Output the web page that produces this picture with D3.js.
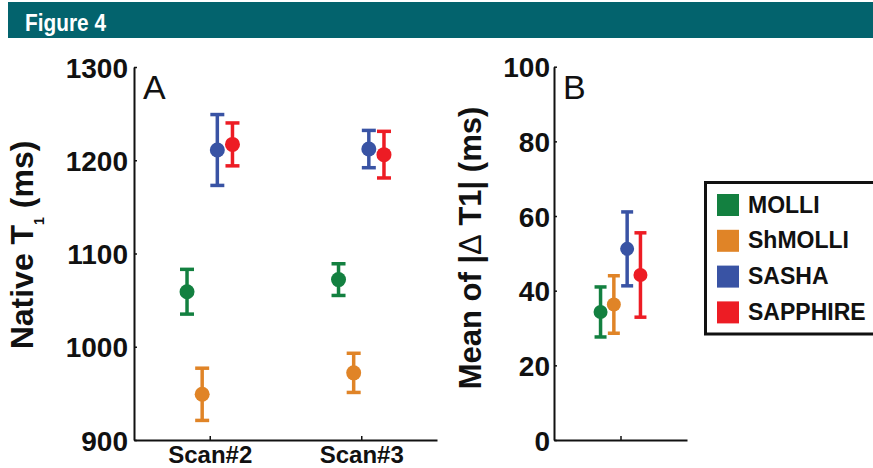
<!DOCTYPE html>
<html><head><meta charset="utf-8">
<script src="https://cdn.jsdelivr.net/npm/d3@7"></script>
<style>
body{margin:0;background:#fff;}
svg{display:block;font-family:"Liberation Sans",Arial,sans-serif;}
</style></head>
<body><svg id="c" width="873" height="468"></svg>
<script>
// ---- data ----
const scans = ["Scan#2", "Scan#3"];
const methods = ["MOLLI", "ShMOLLI", "SASHA", "SAPPHIRE"];
const colors = ["#138040", "#E08427", "#3953A4", "#ED1C24"];
// Panel A: native T1 (ms) mean and error per scan
const molliT1 = [1059, 1072], molliErr = [24, 17];
const shmolliT1 = [949, 972], shmolliErr = [28, 21];
const sashaT1 = [1211, 1212], sashaErr = [38, 20];
const sapphireT1 = [1217, 1206], sapphireErr = [23, 25];
// Panel B: mean |ΔT1| (ms) and error
const deltaMean = [34.3, 36.3, 51.2, 44.2];
const deltaErr = [6.7, 7.7, 9.9, 11.3];
const ticksA = [900, 1000, 1100, 1200, 1300];
const ticksB = [0, 20, 40, 60, 80, 100];

const t1Means = [molliT1, shmolliT1, sashaT1, sapphireT1];
const t1Errs = [molliErr, shmolliErr, sashaErr, sapphireErr];

const svg = d3.select("#c");

// header
svg.append("rect").attr("x", 8).attr("y", 2).attr("width", 870).attr("height", 36).attr("fill", "#03636D");
svg.append("text").attr("x", 25).attr("y", 30.5).attr("fill", "#fff")
  .attr("font-size", 24).attr("font-weight", "bold")
  .attr("textLength", 81).attr("lengthAdjust", "spacingAndGlyphs").text("Figure 4");

function styleAxis(g) {
  g.select(".domain").attr("stroke", "#111").attr("stroke-width", 2);
  g.selectAll(".tick line").attr("stroke", "#111").attr("stroke-width", 1.5);
  g.selectAll(".tick text").attr("fill", "#111").attr("font-family", "Liberation Sans, Arial, sans-serif")
    .attr("font-weight", "bold");
}

// ---------- Panel A ----------
const xA = d3.scaleLinear().domain([0.5, 2.5]).range([134, 437]);
const yA = d3.scaleLinear().domain([900, 1300]).range([440, 67]);
const offA = [-0.15, -0.05, 0.05, 0.15];

const gyA = svg.append("g").attr("transform", `translate(${xA.range()[0]},0)`)
  .call(d3.axisLeft(yA).tickValues(ticksA).tickFormat(d3.format("d")).tickSizeInner(-3).tickSizeOuter(0).tickPadding(6));
styleAxis(gyA);
gyA.selectAll(".tick text").attr("font-size", 28).attr("dy", "0.36em");

const gxA = svg.append("g").attr("transform", `translate(0,${yA.range()[0]})`)
  .call(d3.axisBottom(xA).tickValues([1, 2]).tickFormat((d, i) => scans[i]).tickSizeInner(-4).tickSizeOuter(0).tickPadding(0));
styleAxis(gxA);
gxA.selectAll(".tick text").attr("font-size", 24).attr("y", 23).attr("dy", null);

svg.append("text").attr("transform", `translate(33,245) rotate(-90)`).attr("text-anchor", "middle")
  .attr("font-size", 32).attr("font-weight", "bold").attr("fill", "#111")
  .call(t => {
    t.append("tspan").text("Native T");
    t.append("tspan").attr("font-size", 14).attr("dy", 11).text("1");
    t.append("tspan").attr("dy", -11).text(" (ms)");
  });
svg.append("text").attr("x", 143).attr("y", 99).attr("font-size", 34).attr("fill", "#111").text("A");

methods.forEach((m, mi) => {
  scans.forEach((s, si) => {
    const cx = xA(si + 1 + offA[mi]);
    const mu = t1Means[mi][si], e = t1Errs[mi][si];
    const g = svg.append("g").attr("stroke", colors[mi]).attr("stroke-width", 3.5);
    g.append("line").attr("x1", cx).attr("x2", cx).attr("y1", yA(mu - e)).attr("y2", yA(mu + e));
    [mu - e, mu + e].forEach(v => g.append("line").attr("x1", cx - 7).attr("x2", cx + 7).attr("y1", yA(v)).attr("y2", yA(v)));
    svg.append("circle").attr("cx", cx).attr("cy", yA(mu)).attr("r", 7.5).attr("fill", colors[mi]);
  });
});

// ---------- Panel B ----------
const xB = d3.scaleLinear().domain([0, 2]).range([554, 687]);
const yB = d3.scaleLinear().domain([0, 100]).range([440, 66.7]);
const offB = [-0.3, -0.1, 0.1, 0.3];

const gyB = svg.append("g").attr("transform", `translate(${xB.range()[0]},0)`)
  .call(d3.axisLeft(yB).tickValues(ticksB).tickFormat(d3.format("d")).tickSizeInner(-3).tickSizeOuter(0).tickPadding(4));
styleAxis(gyB);
gyB.selectAll(".tick text").attr("font-size", 28).attr("dy", "0.36em");

const gxB = svg.append("g").attr("transform", `translate(0,${yB.range()[0]})`)
  .call(d3.axisBottom(xB).tickValues([1]).tickFormat("").tickSizeInner(-4).tickSizeOuter(0));
styleAxis(gxB);

svg.append("text").attr("transform", `translate(481,248) rotate(-90)`).attr("text-anchor", "middle")
  .attr("font-size", 31).attr("font-weight", "bold").attr("fill", "#111")
  .call(t => {
    t.append("tspan").text("Mean of |");
    t.append("tspan").attr("font-weight", "normal").text("\u0394");
    t.append("tspan").text(" T1| (ms)");
  });
svg.append("text").attr("x", 563).attr("y", 99).attr("font-size", 34).attr("fill", "#111").text("B");

methods.forEach((m, mi) => {
  const cx = xB(1 + offB[mi]);
  const mu = deltaMean[mi], e = deltaErr[mi];
  const g = svg.append("g").attr("stroke", colors[mi]).attr("stroke-width", 3.5);
  g.append("line").attr("x1", cx).attr("x2", cx).attr("y1", yB(mu - e)).attr("y2", yB(mu + e));
  [mu - e, mu + e].forEach(v => g.append("line").attr("x1", cx - 6).attr("x2", cx + 6).attr("y1", yB(v)).attr("y2", yB(v)));
  svg.append("circle").attr("cx", cx).attr("cy", yB(mu)).attr("r", 7).attr("fill", colors[mi]);
});

// legend
const lg = svg.append("g");
lg.append("rect").attr("x", 705.5).attr("y", 182.5).attr("width", 180).attr("height", 151.5)
  .attr("fill", "#fff").attr("stroke", "#111").attr("stroke-width", 3);
methods.forEach((m, mi) => {
  const y0 = 194 + mi * 35.8;
  lg.append("rect").attr("x", 717).attr("y", y0).attr("width", 22).attr("height", 22).attr("fill", colors[mi]);
  lg.append("text").attr("x", 748).attr("y", y0 + 18.5).attr("font-size", 23).attr("font-weight", "bold")
    .attr("fill", "#111").text(m);
});
</script></body></html>
